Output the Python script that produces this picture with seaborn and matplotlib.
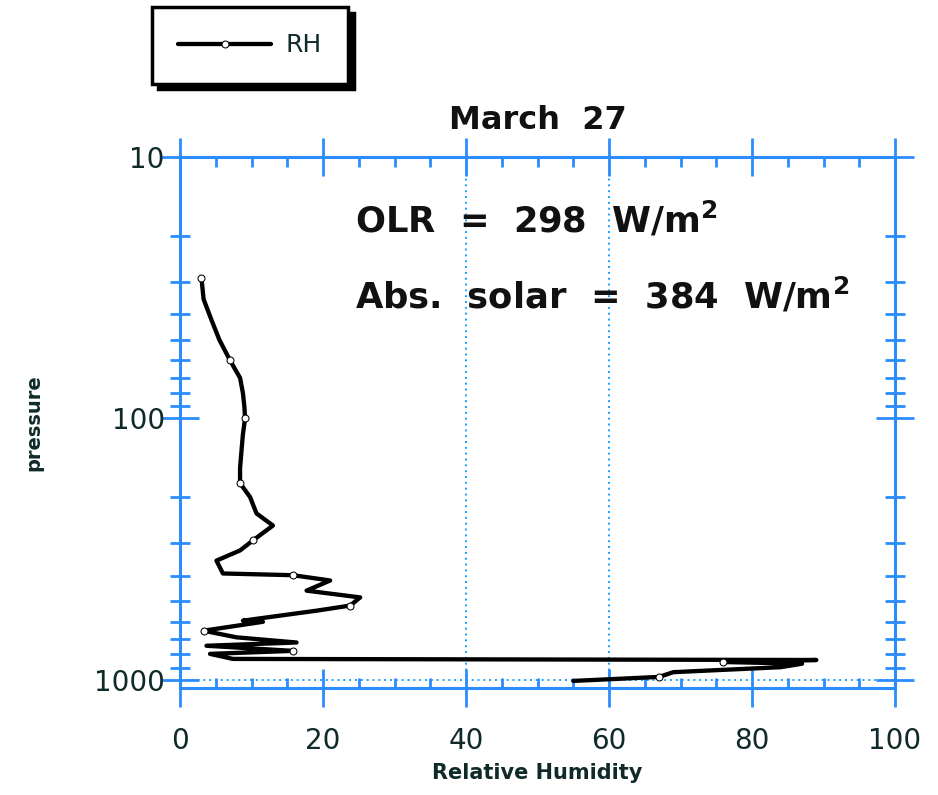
import numpy as np
import pandas as pd
import matplotlib
matplotlib.use("Agg")
import matplotlib.pyplot as plt
import seaborn as sns
from matplotlib.ticker import FixedLocator, MultipleLocator, LogLocator, NullFormatter

# Relative humidity profile (top of profile -> surface)
rh = [3.0, 3.3, 4.4, 5.5, 7.0, 8.4, 8.8, 9.0, 9.1, 8.8, 8.6, 8.4, 8.4, 9.8,
      10.7, 13.0, 10.2, 8.4, 5.1, 6.0, 15.8, 21.0, 17.7, 25.2, 23.8, 19.1,
      8.8, 11.6, 3.3, 7.9, 16.3, 3.7, 15.8, 4.2, 7.4, 89.0, 76.0, 87.0,
      84.0, 69.0, 67.0, 55.0]
pressure = [29, 35, 42, 50, 60, 70, 80, 90, 100, 115, 133, 155, 177, 200,
            231, 257, 293, 320, 350, 392, 398, 417, 456, 484, 520, 544,
            594, 600, 649, 688, 720, 741, 775, 796, 832, 840, 855, 868,
            895, 935, 975, 1010]

title = "March  27"
olr_text = r"OLR  =  298  W/m$^\mathregular{2}$"
solar_text = r"Abs.  solar  =  384  W/m$^\mathregular{2}$"
x_ticks = [0, 20, 40, 60, 80, 100]
y_ticks = [10, 100, 1000]
x_grid = [40, 60]
y_grid = [1000]

df = pd.DataFrame({"rh": rh, "pressure": pressure})

sns.set_theme(style="ticks")
plt.rcParams["font.family"] = ["DejaVu Sans"]

spine_col = "#2a8cff"
text_col = "#102a2a"

fig = plt.figure(figsize=(9.38, 7.95), dpi=100)
ax = fig.add_axes([180 / 938, 1 - 688 / 795, 715 / 938, 531 / 795])

sns.lineplot(data=df, x="rh", y="pressure", sort=False, estimator=None,
             color="black", lw=3.1, marker="o", markersize=5,
             markerfacecolor="white", markeredgecolor="black",
             markevery=4, label="RH", ax=ax, legend=False)

ax.set_yscale("log")
ax.set_xlim(0, 100)
ax.set_ylim(1075, 10)

for xv in x_grid:
    ax.axvline(xv, color="#1aa0ff", ls=(0, (1, 2)), lw=1.4, zorder=0)
for yv in y_grid:
    ax.axhline(yv, color="#1aa0ff", ls=(0, (1, 2)), lw=1.4, zorder=0)

for s in ax.spines.values():
    s.set_color(spine_col)
    s.set_linewidth(2.2)

ax.xaxis.set_major_locator(FixedLocator(x_ticks))
ax.xaxis.set_minor_locator(MultipleLocator(5))
ax.yaxis.set_major_locator(FixedLocator(y_ticks))
ax.yaxis.set_minor_locator(LogLocator(base=10, subs=np.arange(2, 10)))
ax.yaxis.set_minor_formatter(NullFormatter())
ax.set_yticklabels([str(v) for v in y_ticks])
ax.set_xticklabels([str(v) for v in x_ticks])

ax.tick_params(axis="x", which="major", direction="inout", length=28, width=2,
               color=spine_col, top=True, labelsize=20, labelcolor=text_col, pad=14)
ax.tick_params(axis="x", which="minor", direction="in", length=7, width=2,
               color=spine_col, top=True)
ax.tick_params(axis="y", which="major", direction="inout", length=28, width=2,
               color=spine_col, right=True, labelsize=20, labelcolor=text_col, pad=-3)
ax.tick_params(axis="y", which="minor", direction="inout", length=14, width=2,
               color=spine_col, right=True)

ax.set_xlabel("Relative Humidity", fontsize=15, fontweight="bold",
              color=text_col, labelpad=6)
ax.set_ylabel("pressure", fontsize=14, fontweight="bold", color=text_col,
              labelpad=36)
ax.set_title(title, fontsize=23, fontweight="bold", color="#111111", pad=20)

ax.text(24.5, 17.4, olr_text, fontsize=25.5, fontweight="bold", color="#111111",
        va="center", ha="left")
ax.text(24.5, 34.0, solar_text, fontsize=25.5, fontweight="bold", color="#111111",
        va="center", ha="left")

handles, labels = ax.get_legend_handles_labels()
leg = fig.legend(handles, labels, loc="upper left",
                 bbox_to_anchor=(152 / 938, 1 - 7 / 795), borderaxespad=0,
                 fontsize=18, handlelength=3.7, handletextpad=0.6,
                 borderpad=1.05, frameon=True, fancybox=False,
                 shadow={"ox": 4, "oy": -4, "color": "black", "alpha": 1})
leg.get_frame().set_edgecolor("black")
leg.get_frame().set_linewidth(2.5)
for t in leg.get_texts():
    t.set_color(text_col)

fig.savefig("out.png", dpi=100)
